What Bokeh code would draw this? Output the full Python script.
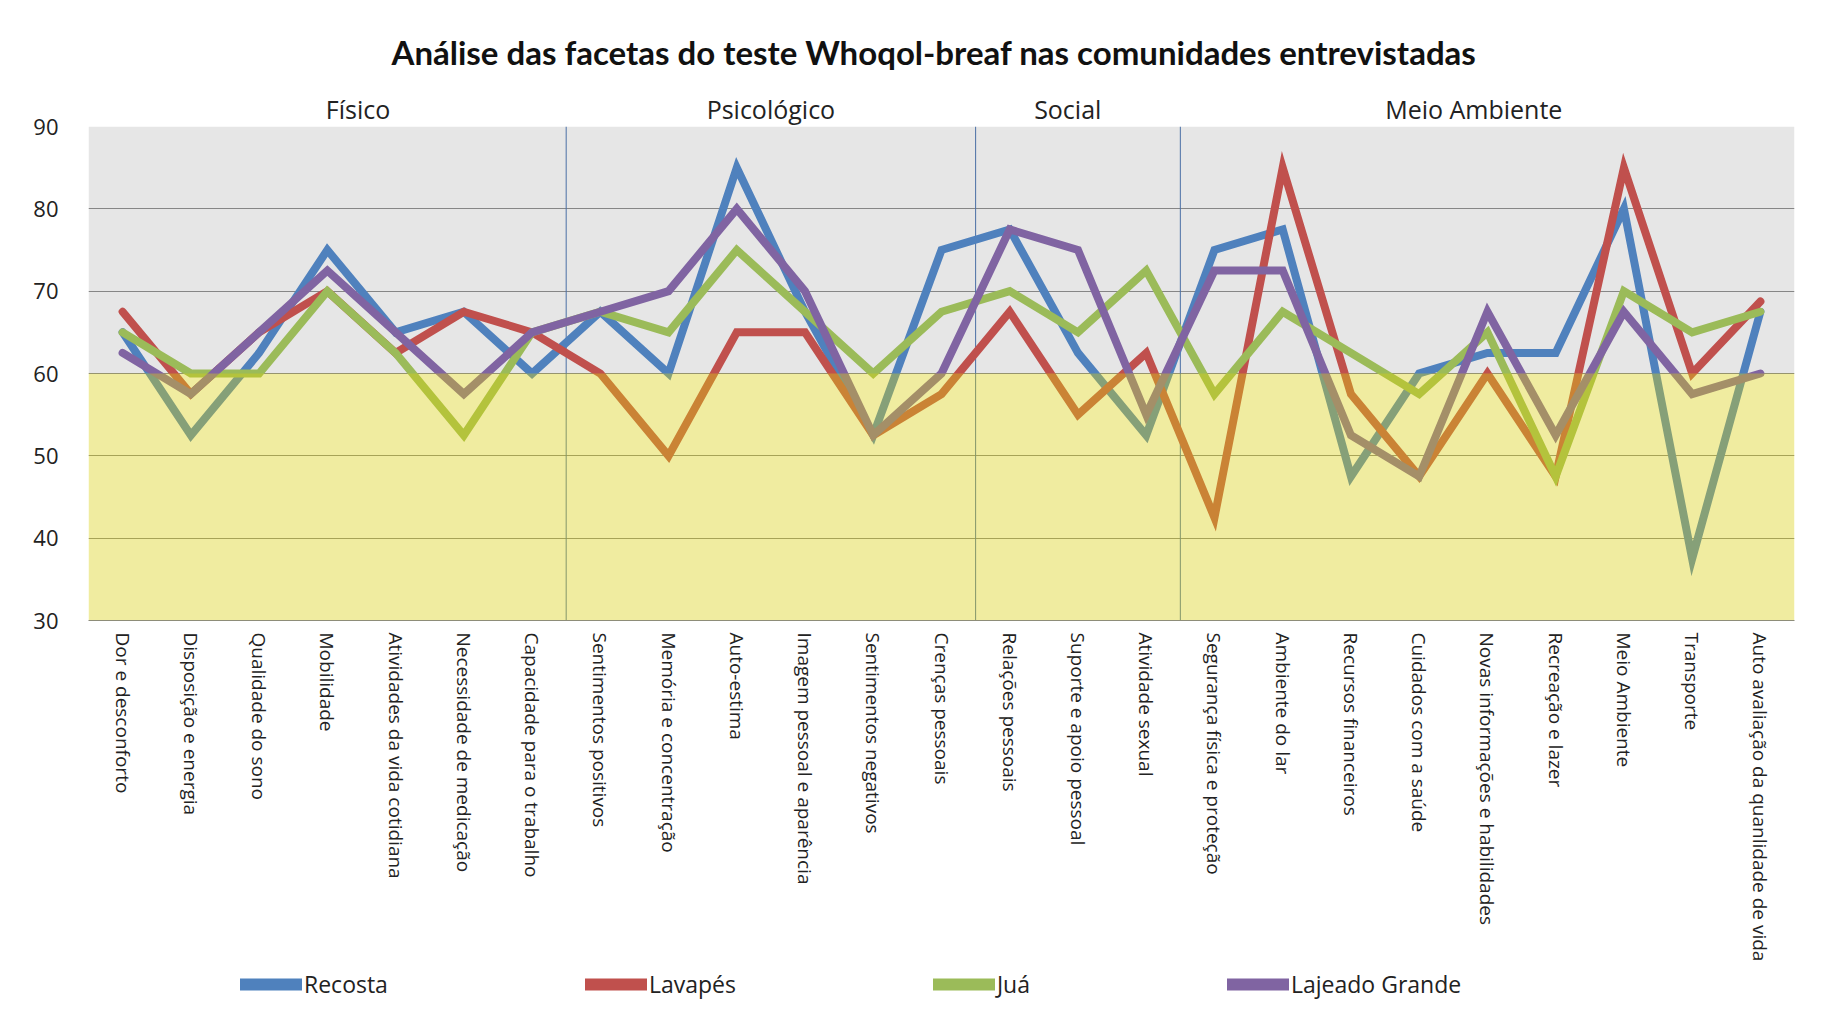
from bokeh.plotting import figure
from bokeh.layouts import column
from bokeh.models import (Range1d, FixedTicker, BoxAnnotation, Span, Legend,
                          LegendItem, LinearAxis)
from bokeh.embed import file_html
from bokeh.resources import INLINE

categories = [
    "Dor e desconforto", "Disposição e energia", "Qualidade do sono", "Mobilidade",
    "Atividades da vida cotidiana", "Necessidade de medicação", "Capacidade para o trabalho",
    "Sentimentos positivos", "Memória e concentração", "Auto-estima",
    "Imagem pessoal e aparência", "Sentimentos negativos", "Crenças pessoais",
    "Relações pessoais", "Suporte e apoio pessoal", "Atividade sexual",
    "Segurança física e proteção", "Ambiente do lar", "Recursos financeiros",
    "Cuidados com a saúde", "Novas informações e habilidades", "Recreação e lazer",
    "Meio Ambiente", "Transporte", "Auto avaliação da quanlidade de vida",
]

recosta = [65, 52.5, 62.5, 75, 65, 67.5, 60, 67.5, 60, 85, 67.5, 52.5, 75,
           77.5, 62.5, 52.5, 75, 77.5, 47.5, 60, 62.5, 62.5, 80, 37.5, 67.5]
lavapes = [67.5, 57.5, 65, 70, 62.5, 67.5, 65, 60, 50, 65, 65, 52.5, 57.5,
           67.5, 55, 62.5, 42.5, 85, 57.5, 47.5, 60, 47.5, 85, 60, 68.75]
jua = [65, 60, 60, 70, 62.5, 52.5, 65, 67.5, 65, 75, 67.5, 60, 67.5,
       70, 65, 72.5, 57.5, 67.5, 62.5, 57.5, 65, 47.5, 70, 65, 67.5]
lajeado = [62.5, 57.5, 65, 72.5, 65, 57.5, 65, 67.5, 70, 80, 70, 52.5, 60,
           77.5, 75, 55, 72.5, 72.5, 52.5, 47.5, 67.5, 52.5, 67.5, 57.5, 60]

series_names = ["Recosta", "Lavapés", "Juá", "Lajeado Grande"]
series_values = [recosta, lavapes, jua, lajeado]
series_colors = ["#4F81BD", "#C0504D", "#9BBB59", "#8064A2"]

y_ticks = [30, 40, 50, 60, 70, 80, 90]
threshold = 60

groups = ["Físico", "Psicológico", "Social", "Meio Ambiente"]
group_sizes = [7, 6, 3, 9]

title_text = "Análise das facetas do teste Whoqol-breaf nas comunidades entrevistadas"

FONT = "Open Sans"
xs = list(range(len(categories)))

p = figure(width=1836, height=966, output_backend="svg", toolbar_location=None,
           x_range=Range1d(-0.5, len(categories) - 0.5),
           y_range=Range1d(min(y_ticks), max(y_ticks)),
           min_border_left=88, min_border_right=42,
           min_border_top=126, min_border_bottom=346)
p.outline_line_color = None
p.background_fill_color = "white"

# title
p.title.text = title_text
p.title.align = "left"
p.title.offset = 303
p.title.standoff = 34
p.title.text_font = "Lato"
p.title.text_font_size = "33px"
p.title.text_font_style = "bold"
p.title.text_color = "#111111"

# backgrounds
p.add_layout(BoxAnnotation(bottom=threshold, top=max(y_ticks), fill_color="#E6E6E6",
                           fill_alpha=1.0, line_color=None, level="image"))

# grid
p.xgrid.visible = False
p.ygrid.grid_line_color = "#868686"
p.ygrid.grid_line_width = 1
p.ygrid.ticker = FixedTicker(ticks=y_ticks)

# axes
p.yaxis.ticker = FixedTicker(ticks=y_ticks)
p.yaxis.axis_line_color = None
p.yaxis.major_tick_line_color = None
p.yaxis.minor_tick_line_color = None
p.yaxis.major_label_text_font = FONT
p.yaxis.major_label_text_font_size = "22px"
p.yaxis.major_label_text_color = "#222222"
p.yaxis.major_label_standoff = 24

p.xaxis.ticker = FixedTicker(ticks=xs)
p.xaxis.major_label_overrides = {i: c for i, c in zip(xs, categories)}
p.xaxis.major_label_orientation = "vertical"
p.xaxis.axis_line_color = "#868686"
p.xaxis.major_tick_line_color = None
p.xaxis.minor_tick_line_color = None
p.xaxis.major_tick_out = 0
p.xaxis.major_label_text_font = FONT
p.xaxis.major_label_text_font_size = "19px"
p.xaxis.major_label_text_color = "#222222"
p.xaxis.major_label_standoff = 12

# group separators
pos = -0.5
for n in group_sizes:
    end = pos + n
    if end < len(categories) - 0.5:
        p.add_layout(Span(location=end, dimension="height", line_color="#4A6FA5",
                          line_width=1, level="underlay"))
    pos = end

# group names on an axis above the frame
group_label_x = [3.45, 9.5, 13.85, 19.8]
gaxis = LinearAxis(ticker=FixedTicker(ticks=group_label_x),
                   major_label_overrides={gx: g for gx, g in zip(group_label_x, groups)},
                   axis_line_color=None, major_tick_line_color=None,
                   minor_tick_line_color=None, major_tick_out=0, minor_tick_out=0,
                   major_label_standoff=1, major_label_text_font=FONT,
                   major_label_text_font_size="25px", major_label_text_color="#222222")
p.add_layout(gaxis, "above")

# lines
for name, vals, col in zip(series_names, series_values, series_colors):
    p.line(xs, vals, line_color=col, line_width=8, line_join="miter", line_cap="round")

# translucent yellow overlay below threshold
p.add_layout(BoxAnnotation(bottom=min(y_ticks), top=threshold, fill_color=(217, 207, 17),
                           fill_alpha=0.4, line_color=None))

# legend strip (series drawn off-range there, only used for the legend keys)
lg = figure(width=1836, height=61, output_backend="svg", toolbar_location=None,
            x_range=Range1d(0, 1), y_range=Range1d(0, 1),
            min_border_left=0, min_border_right=0, min_border_top=0, min_border_bottom=0)
lg.outline_line_color = None
lg.axis.visible = False
lg.grid.visible = False
lg.title.visible = False
items = []
for name, vals, col in zip(series_names, series_values, series_colors):
    r = lg.line(xs, vals, line_color=col, line_width=12, line_cap="round")
    items.append(LegendItem(label=name, renderers=[r]))
legend = Legend(items=items, orientation="horizontal", location=(152, 27),
                spacing=197, glyph_width=62, glyph_height=24, label_height=24,
                label_standoff=2, padding=0, margin=0, border_line_color=None,
                background_fill_alpha=0, label_text_font=FONT,
                label_text_font_size="23px", label_text_color="#222222")
lg.add_layout(legend, "center")

layout = column(p, lg, spacing=0)
open("out.html", "w").write(file_html(layout, INLINE))
